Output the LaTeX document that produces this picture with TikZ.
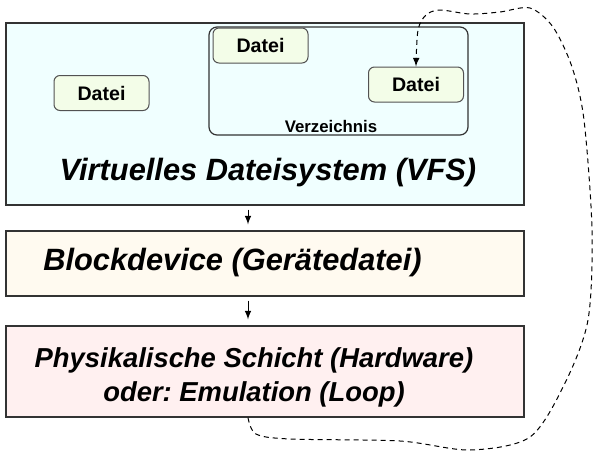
\documentclass[tikz,border=0pt]{standalone}
\usepackage{fontspec}
\setsansfont{Liberation Sans}
\usetikzlibrary{arrows,positioning}
\definecolor{vfsblue}{HTML}{F0FFFF}
\definecolor{blockcream}{HTML}{FFFAF0}
\definecolor{physpink}{HTML}{FFF0F0}
\definecolor{dateigreen}{HTML}{F3FDE8}
\definecolor{rahmen}{HTML}{333333}
\frenchspacing

\begin{document}
\begin{tikzpicture}[x=0.5pt,y=-0.5pt,
  layer/.style={draw=rahmen,line width=0.6pt,minimum width=259pt,inner sep=0pt},
  datei/.style={draw=rahmen!85,fill=dateigreen,rounded corners=3pt,line width=0.5pt,
    minimum width=47.5pt,minimum height=17.5pt,inner sep=0pt,
    font=\sffamily\bfseries\fontsize{9.8}{11}\selectfont},
  gross/.style={font=\sffamily\bfseries\itshape\fontsize{15.4}{17}\selectfont},
  flow/.style={-latex,line width=0.5pt,shorten <=2pt,shorten >=3pt},
  rueckweg/.style={dash pattern=on 2.5pt off 2pt,line width=0.5pt,-latex}]
\useasboundingbox (0,0) rectangle (596,451);
% die drei Schichten
\node[layer,fill=vfsblue,minimum height=91pt] (vfs) at (265,114) {};
\node[layer,fill=blockcream,minimum height=32.5pt] (block) at (265,263.5) {};
\node[layer,fill=physpink,minimum height=45.5pt] (phys) at (265,371.5) {};
% Dateien und Verzeichnis
\node[datei] (datei1) at (101.5,93) {Datei};
\node[draw=rahmen,rounded corners=4pt,line width=0.6pt,minimum width=129.5pt,minimum height=54pt] (verz) at (338.5,81) {};
\node[datei] (datei2) at (260.5,45.5) {Datei};
\node[datei] (datei3) at (416,84.5) {Datei};
\node[font=\sffamily\bfseries\fontsize{8.4}{10}\selectfont] (verzname) at (331,126) {Verzeichnis};
% Beschriftungen
\node[gross] (vfsname) at (268,173) {Virtuelles Dateisystem (VFS)};
\node[gross] (blockname) at (232.5,263) {Blockdevice (Ger\"atedatei)};
\node[gross,font=\sffamily\bfseries\itshape\fontsize{13.7}{17}\selectfont,align=center] (physname) at (254,377)
  {Physikalische Schicht (Hardware)\\oder: Emulation (Loop)};
% Pfeile
\draw[flow] ([xshift=-8.5pt]vfs.south) -- ([xshift=-8.5pt]block.north);
\draw[flow] ([xshift=-8.5pt]block.south) -- ([xshift=-8.5pt]phys.north);
\draw[rueckweg] plot[smooth] coordinates {([xshift=-8.5pt]phys.south) (256,434) (290,439) (400,441)
  (470,450) (530,437) (565,383) (588,320) (592,230) (584,120) (572,67) (553,27) (530,8)
  (500,12) (470,14) (440,10) (426,15) (418,30) (datei3.north)};
\end{tikzpicture}
\end{document}
